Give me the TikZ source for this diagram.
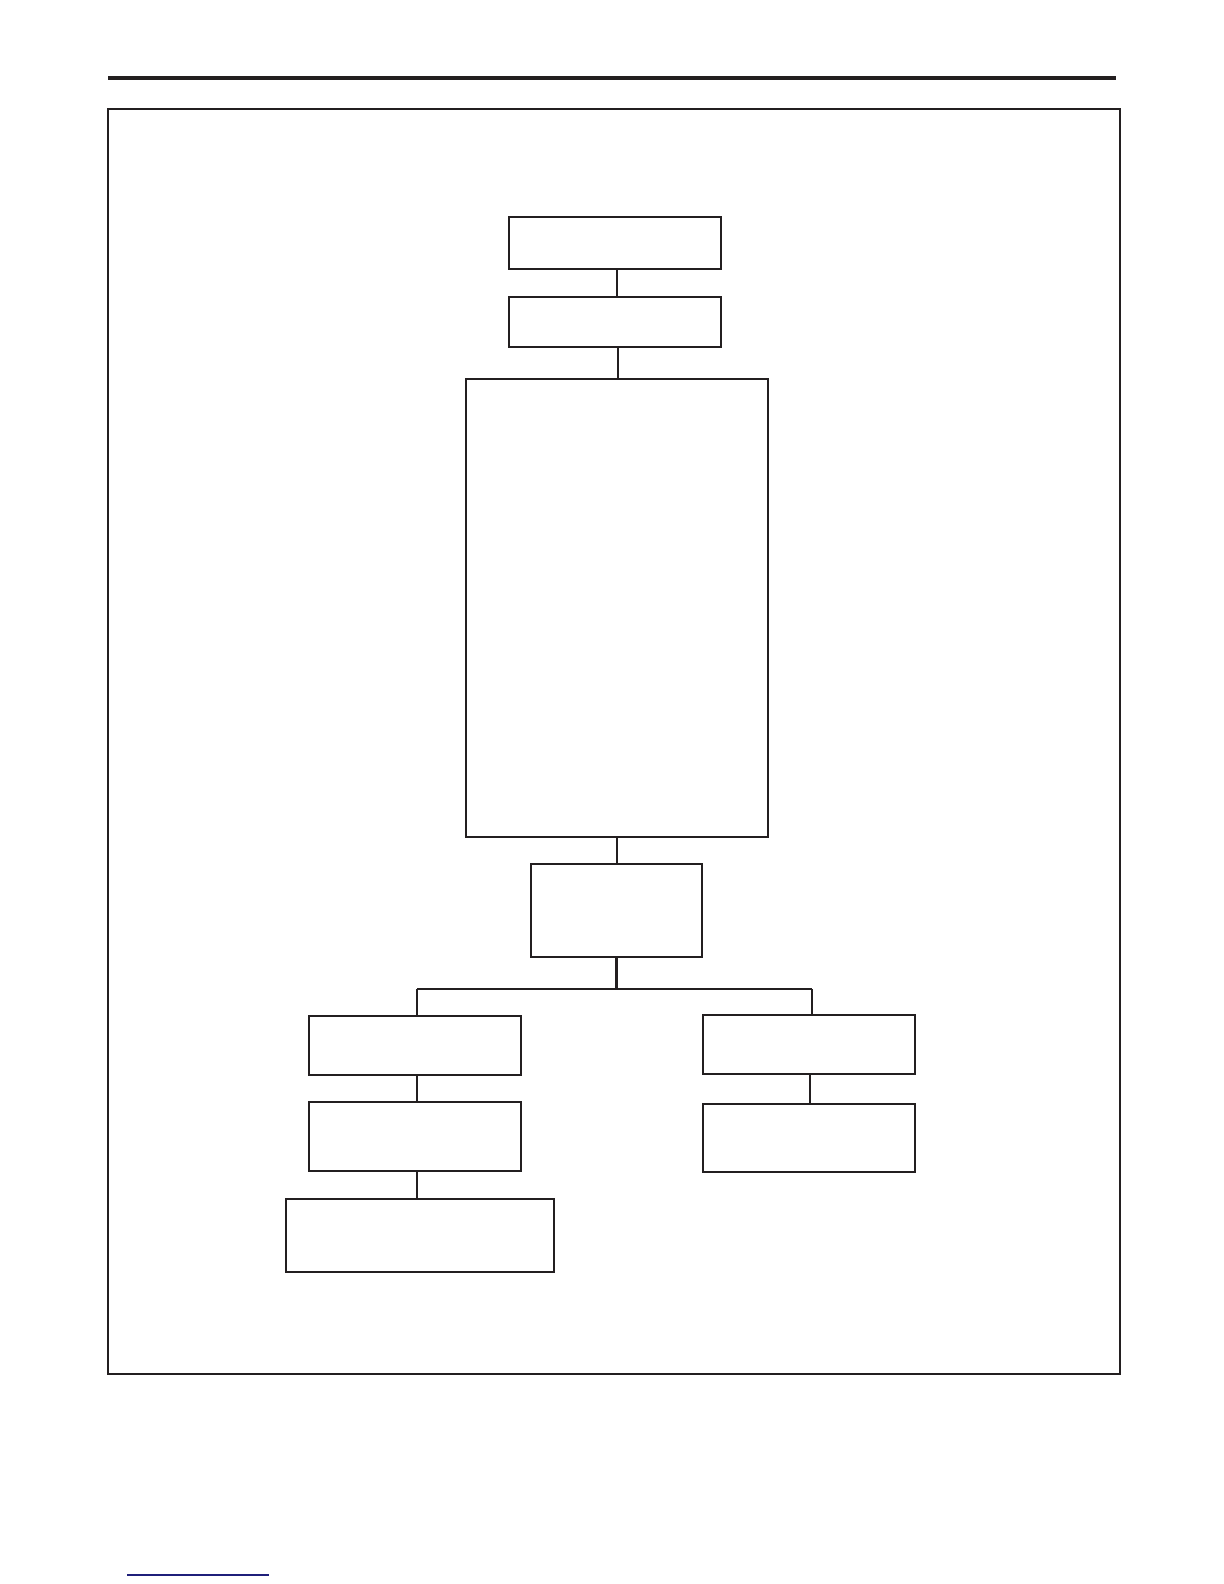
\documentclass[tikz,border=0pt]{standalone}
\usetikzlibrary{calc}
\definecolor{ink}{HTML}{231F20}
\definecolor{linkblue}{HTML}{1F1F7A}
\begin{document}
\begin{tikzpicture}[x=0.5pt,y=-0.5pt,
  box/.style={draw=ink, line width=1.15pt, rectangle, inner sep=0pt, fill=white},
  conn/.style={draw=ink, line width=1.15pt},
  thinconn/.style={draw=ink, line width=0.9pt}]
\useasboundingbox (0,0) rectangle (1224,1584);
\fill[white] (0,0) rectangle (1224,1584);
% page rule and frame
\draw[ink, line width=2pt] (108,78) -- (1116,78);
\draw[ink, line width=1.25pt] (108,109) rectangle (1120,1374);
% boxes
\node[box, minimum width=106pt, minimum height=26pt]  (A) at (615,243) {};
\node[box, minimum width=106pt, minimum height=25pt]  (B) at (615,322) {};
\node[box, minimum width=151pt, minimum height=229pt] (C) at (617,608) {};
\node[box, minimum width=85.5pt, minimum height=46.5pt] (D) at (616.5,910.5) {};
\node[box, minimum width=106pt, minimum height=29.5pt] (E) at (415,1045.5) {};
\node[box, minimum width=106pt, minimum height=34.5pt] (F) at (415,1136.5) {};
\node[box, minimum width=134pt, minimum height=36.5pt] (G) at (420,1235.5) {};
\node[box, minimum width=106pt, minimum height=29.5pt] (H) at (809,1044.5) {};
\node[box, minimum width=106pt, minimum height=34pt]  (I) at (809,1138) {};
% junction
\coordinate (jl) at (417,989);
\coordinate (jr) at (812,989);
% connectors
\draw[conn] ([xshift=1pt]A.south) -- ([xshift=1pt]A.south |- B.north);
\draw[conn] ([xshift=1.5pt]B.south) -- ([xshift=1.5pt]B.south |- C.north);
\draw[conn] (C.south) -- (C.south |- D.north);
\draw[conn] (D.south) -- (D.south |- jl);
\draw[conn] (jl) -- (jr);
\draw[conn] (jl) -- (E.north -| jl);
\draw[conn] (jr) -- (H.north -| jr);
\draw[conn] (E.south -| jl) -- (F.north -| jl);
\draw[conn] (F.south -| jl) -- (G.north -| jl);
\draw[thinconn] ([xshift=0.5pt]H.south) -- ([xshift=0.5pt]H.south |- I.north);
% link underline at page foot
\draw[linkblue, line width=0.7pt] (127,1575) -- (269,1575);
\end{tikzpicture}
\end{document}
